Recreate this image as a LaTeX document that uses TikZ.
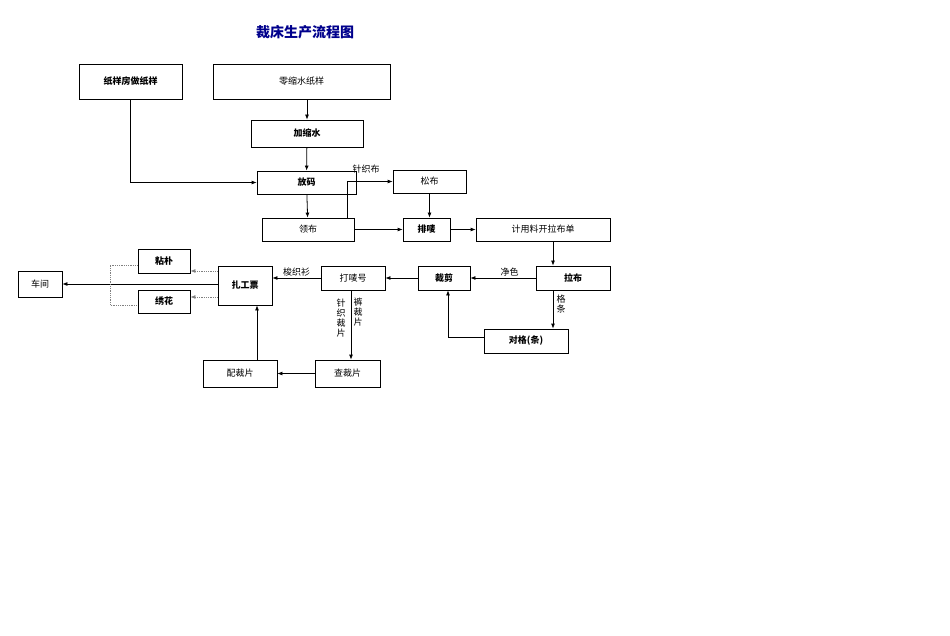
\documentclass[tikz,border=0pt]{standalone}
\usepackage{fontspec}
\setmainfont{Noto Sans CJK SC}
\usetikzlibrary{arrows.meta}
\begin{document}
\begin{tikzpicture}[x=1pt,y=-1pt,
 box/.style={draw,thick,inner sep=0pt,font=\fontsize{9}{10}\selectfont},
 bb/.style={box,font=\fontsize{9}{10}\selectfont\bfseries},
 ar/.style={-{Latex[length=5pt,width=4pt]},thick},
 dar/.style={-{Latex[length=5pt,width=4pt]},densely dotted,gray,thick},
 lb/.style={font=\fontsize{9}{10}\selectfont,inner sep=1pt}]
\useasboundingbox (0,0) rectangle (950,636);
\node[font=\fontsize{14}{16}\selectfont\bfseries,text=blue!55!black] (t) at (305,32) {裁床生产流程图};
\newcommand{\bx}[6]{\node[#1,minimum width=#4-#2,minimum height=#5-#3] (#6) at ({(#2+#4)/2},{(#3+#5)/2})}
\bx{bb}{79}{64}{182}{99}{zy} {纸样房做纸样};
\bx{box}{213}{64}{390}{99}{ls} {零缩水纸样};
\bx{bb}{251}{120}{363}{147}{js} {加缩水};
\bx{bb}{257}{171}{356}{194}{fm} {放码};
\bx{box}{393}{170}{466}{193}{sb} {松布};
\bx{box}{262}{218}{354}{241}{lbu} {领布};
\bx{bb}{403}{218}{450}{241}{pm} {排唛};
\bx{box}{476}{218}{610}{241}{jy} {计用料开拉布单};
\bx{bb}{536}{266}{610}{290}{lab} {拉布};
\bx{bb}{418}{266}{470}{290}{cj} {裁剪};
\bx{box}{321}{266}{385}{290}{dm} {打唛号};
\bx{bb}{218}{266}{272}{305}{zg} {扎工票};
\bx{bb}{138}{249}{190}{273}{np} {粘朴};
\bx{bb}{138}{290}{190}{313}{xh} {绣花};
\bx{box}{18}{271}{62}{297}{cjn} {车间};
\bx{bb}{484}{329}{568}{353}{dg} {对格(条)};
\bx{box}{203}{360}{277}{387}{pc} {配裁片};
\bx{box}{315}{360}{380}{387}{cc} {查裁片};
\draw[ar] (zy.south) |- (fm.west);
\draw[ar] (ls.south-|js) -- (js.north);
\draw[ar] (js) -- (fm);
\draw[ar] (fm) -- (lbu);
\draw[ar] (lbu.north-|347,0) |- (sb.west);
\node[lb] (l1) at (366,169) {针织布};
\draw[ar] (sb) -- (sb|-pm.north);
\draw[ar] (lbu) -- (pm);
\draw[ar] (pm) -- (jy);
\draw[ar] (jy.south-|553,0) -- (lab.north-|553,0);
\draw[ar] (lab) -- (cj) node[lb,pos=0.4,above] (l2) {净色};
\draw[ar] (cj) -- (dm);
\draw[ar] (dm.west) -- (zg.east|-dm.west) node[lb,midway,above] (l3) {梭织衫};
\draw[ar] (zg.west|-cjn) -- (cjn);
\draw[dar] (zg.west|-0,271) -- (np.east|-0,271);
\draw[dar] (zg.west|-0,297) -- (xh.east|-0,297);
\draw[densely dotted,gray,thick] (np.west|-0,265) -- (110,265) -- (110,305) -- (xh.west|-0,305);
\draw[ar] (lab.south-|553,0) -- (dg.north-|553,0);
\node[lb,align=center] (l4) at (561,304) {格\\条};
\draw[ar] (dg.west|-0,337) -| (cj.south-|448,0);
\draw[ar] (dm.south-|351,0) -- (cc.north-|351,0);
\node[lb,align=center] (l5) at (341,318) {针\\织\\裁\\片};
\node[lb,align=center] (l6) at (358,312) {裤\\裁\\片};
\draw[ar] (cc) -- (pc);
\draw[ar] (pc.north-|257,0) -- (zg.south-|257,0);
\end{tikzpicture}
\end{document}
